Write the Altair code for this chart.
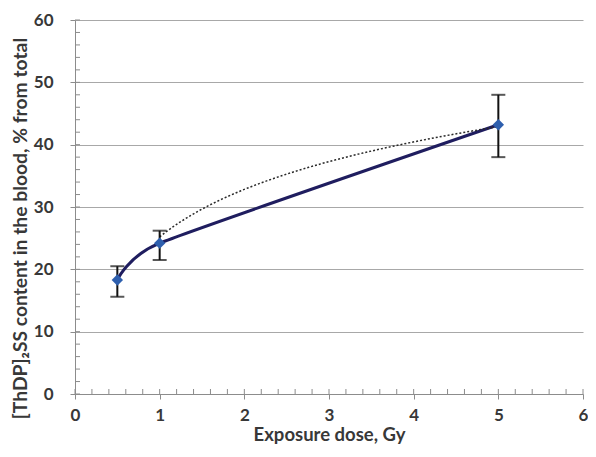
import altair as alt
import pandas as pd

# --- data ---
dose = [0.5, 1, 5]
content = [18.3, 24.2, 43.2]
err_low = [15.6, 21.5, 38.0]
err_high = [20.5, 26.2, 48.0]
trend_extent = [1, 5]

x_ticks = [0, 1, 2, 3, 4, 5, 6]
y_ticks = [0, 10, 20, 30, 40, 50, 60]
x_minor = [0, 0.2, 0.4, 0.6, 0.8, 1, 1.2, 1.4, 1.6, 1.8, 2, 2.2, 2.4, 2.6, 2.8, 3,
           3.2, 3.4, 3.6, 3.8, 4, 4.2, 4.4, 4.6, 4.8, 5, 5.2, 5.4, 5.6, 5.8, 6]
y_minor = [0, 2, 4, 6, 8, 10, 12, 14, 16, 18, 20, 22, 24, 26, 28, 30, 32, 34, 36,
           38, 40, 42, 44, 46, 48, 50, 52, 54, 56, 58, 60]

W, H = 508, 374
AX = "#8c8c8c"
TXT = "#383838"
FONT = "Lato"

df = pd.DataFrame({"dose": dose, "content": content, "lo": err_low, "hi": err_high})

xs = alt.Scale(domain=[0, 6], nice=False, zero=False)
ys = alt.Scale(domain=[0, 60], nice=False)

xaxis = alt.Axis(values=x_ticks, format="d", title="Exposure dose, Gy", grid=False,
                 domainColor=AX, tickColor=AX, tickSize=5, labelPadding=8,
                 labelFont=FONT, labelFontWeight="bold", labelFontSize=17, labelColor=TXT,
                 titleFont=FONT, titleFontWeight="bold", titleFontSize=18.5, titleColor=TXT,
                 titlePadding=2, labelFlush=False)
yaxis = alt.Axis(values=y_ticks, format="d",
                 title="[ThDP]\u2082SS content in the blood, % from total",
                 grid=True, gridColor="#a8a8a8", gridWidth=1,
                 domainColor=AX, tickColor=AX, tickSize=5, labelPadding=17,
                 labelFont=FONT, labelFontWeight="bold", labelFontSize=17, labelColor=TXT,
                 titleFont=FONT, titleFontWeight="bold", titleFontSize=19.3, titleColor=TXT,
                 titleY=208, titleX=-45)


def X(f):
    return alt.X(f, scale=xs, axis=xaxis)


def Y(f):
    return alt.Y(f, scale=ys, axis=yaxis)


base = alt.Chart(df)

minor_y = alt.Chart(pd.DataFrame({"v": y_minor})).mark_rule(color=AX).encode(
    y=Y("v:Q"), x=alt.value(0), x2=alt.value(5))
minor_x = alt.Chart(pd.DataFrame({"v": x_minor})).mark_rule(color=AX).encode(
    x=X("v:Q"), y=alt.value(H - 5), y2=alt.value(H))

trend = base.transform_regression("dose", "content", method="log", extent=trend_extent).mark_line(
    color="#2a2a2a", strokeDash=[2, 2], strokeWidth=1.5).encode(
    x=X("dose:Q"), y=Y("content:Q"))

line = base.mark_line(interpolate="cardinal", tension=0.5, color="#1f1d5f", strokeWidth=3).encode(
    x=X("dose:Q"), y=Y("content:Q"))

bars = base.mark_rule(color="#111111", strokeWidth=2).encode(
    x=X("dose:Q"), y=Y("lo:Q"), y2="hi:Q")

caps = base.transform_fold(["lo", "hi"], as_=["k", "v"]).mark_tick(
    orient="horizontal", size=14, thickness=2, color="#111111").encode(
    x=X("dose:Q"), y=Y("v:Q"))

points = base.mark_point(shape="diamond", filled=True, size=130, color="#2e5fae", opacity=1).encode(
    x=X("dose:Q"), y=Y("content:Q"))

chart = alt.layer(line, minor_y, minor_x, trend, bars, caps, points).properties(
    width=W, height=H,
    autosize=alt.AutoSizeParams(type="none"),
    padding={"left": 67, "top": 12, "right": 5, "bottom": 55},
    background="white",
).configure_view(stroke=None)

chart.save("out.html", embed_options={"renderer": "svg", "actions": False})
